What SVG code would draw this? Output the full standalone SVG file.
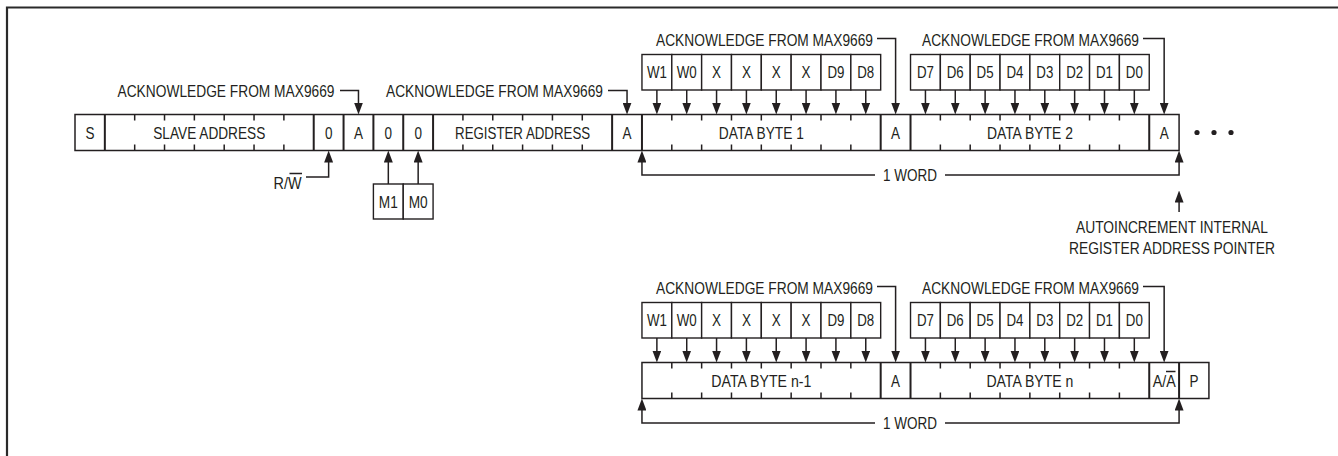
<svg xmlns="http://www.w3.org/2000/svg" width="1338" height="456" viewBox="0 0 1338 456">
<style>
.t{font-family:"Liberation Sans",Arial,sans-serif;font-size:17px;fill:#231f20;text-anchor:middle}
.ln{fill:none;stroke:#231f20;stroke-width:1.5}
.dv{fill:none;stroke:#231f20;stroke-width:2}
.bx{fill:#fff;stroke:#231f20;stroke-width:1.4}
.ar{fill:none;stroke:#231f20;stroke-width:1.5;marker-end:url(#ah)}
</style>
<defs>
<marker id="ah" markerUnits="userSpaceOnUse" markerWidth="12" markerHeight="9" refX="6" refY="4.5" orient="auto">
<path d="M0,0 L12,4.5 L0,9 z" fill="#231f20"/>
</marker>
</defs>
<rect width="1338" height="456" fill="#fff"/>
<path d="M7,456 V7.5 H1338" fill="none" stroke="#2a2a2a" stroke-width="2.2"/>

<g id="row-top">
<rect class="ln" x="75" y="114.5" width="1104.08" height="36"/>
<path class="dv" d="M104.84,114.5V150.5M313.72,114.5V150.5M343.56,114.5V150.5M373.4,114.5V150.5M403.24,114.5V150.5M433.08,114.5V150.5M612.12,114.5V150.5M641.96,114.5V150.5M880.68,114.5V150.5M910.52,114.5V150.5M1149.24,114.5V150.5"/>
<path class="ln" d="M134.68,114.5v6M164.52,114.5v6M194.36,114.5v6M224.2,114.5v6M254.04,114.5v6M283.88,114.5v6M462.92,114.5v6M492.76,114.5v6M522.6,114.5v6M552.44,114.5v6M582.28,114.5v6M671.8,114.5v6M701.64,114.5v6M731.48,114.5v6M761.32,114.5v6M791.16,114.5v6M821,114.5v6M850.84,114.5v6M940.36,114.5v6M970.2,114.5v6M1000.04,114.5v6M1029.88,114.5v6M1059.72,114.5v6M1089.56,114.5v6M1119.4,114.5v6
M134.68,150.5v-6M164.52,150.5v-6M194.36,150.5v-6M224.2,150.5v-6M254.04,150.5v-6M283.88,150.5v-6M462.92,150.5v-6M492.76,150.5v-6M522.6,150.5v-6M552.44,150.5v-6M582.28,150.5v-6M671.8,150.5v-6M701.64,150.5v-6M731.48,150.5v-6M761.32,150.5v-6M791.16,150.5v-6M821,150.5v-6M850.84,150.5v-6M940.36,150.5v-6M970.2,150.5v-6M1000.04,150.5v-6M1029.88,150.5v-6M1059.72,150.5v-6M1089.56,150.5v-6M1119.4,150.5v-6"/>
<text class="t" x="89.92" y="138.7" textLength="9" lengthAdjust="spacingAndGlyphs">S</text>
<text class="t" x="209.28" y="138.7" textLength="112" lengthAdjust="spacingAndGlyphs">SLAVE ADDRESS</text>
<text class="t" x="328.64" y="138.7" textLength="7.5" lengthAdjust="spacingAndGlyphs">0</text>
<text class="t" x="358.48" y="138.7" textLength="9" lengthAdjust="spacingAndGlyphs">A</text>
<text class="t" x="388.32" y="138.7" textLength="7.5" lengthAdjust="spacingAndGlyphs">0</text>
<text class="t" x="418.16" y="138.7" textLength="7.5" lengthAdjust="spacingAndGlyphs">0</text>
<text class="t" x="522.6" y="138.7" textLength="135" lengthAdjust="spacingAndGlyphs">REGISTER ADDRESS</text>
<text class="t" x="627.04" y="138.7" textLength="9" lengthAdjust="spacingAndGlyphs">A</text>
<text class="t" x="761.32" y="138.7" textLength="85" lengthAdjust="spacingAndGlyphs">DATA BYTE 1</text>
<text class="t" x="895.6" y="138.7" textLength="9" lengthAdjust="spacingAndGlyphs">A</text>
<text class="t" x="1029.88" y="138.7" textLength="86" lengthAdjust="spacingAndGlyphs">DATA BYTE 2</text>
<text class="t" x="1164.16" y="138.7" textLength="9" lengthAdjust="spacingAndGlyphs">A</text>
</g>

<g id="ellipsis" fill="#231f20">
<circle cx="1197" cy="132.5" r="2.6"/><circle cx="1214" cy="132.5" r="2.6"/><circle cx="1231" cy="132.5" r="2.6"/>
</g>

<g id="bits-byte1">
<rect class="bx" x="641.96" y="54.5" width="29.84" height="35.5"/><rect class="bx" x="671.8" y="54.5" width="29.84" height="35.5"/><rect class="bx" x="701.64" y="54.5" width="29.84" height="35.5"/><rect class="bx" x="731.48" y="54.5" width="29.84" height="35.5"/><rect class="bx" x="761.32" y="54.5" width="29.84" height="35.5"/><rect class="bx" x="791.16" y="54.5" width="29.84" height="35.5"/><rect class="bx" x="821" y="54.5" width="29.84" height="35.5"/><rect class="bx" x="850.84" y="54.5" width="29.84" height="35.5"/>
<text class="t" x="656.88" y="78.3" textLength="20" lengthAdjust="spacingAndGlyphs">W1</text>
<text class="t" x="686.72" y="78.3" textLength="20" lengthAdjust="spacingAndGlyphs">W0</text>
<text class="t" x="716.56" y="78.3" textLength="9" lengthAdjust="spacingAndGlyphs">X</text>
<text class="t" x="746.4" y="78.3" textLength="9" lengthAdjust="spacingAndGlyphs">X</text>
<text class="t" x="776.24" y="78.3" textLength="9" lengthAdjust="spacingAndGlyphs">X</text>
<text class="t" x="806.08" y="78.3" textLength="9" lengthAdjust="spacingAndGlyphs">X</text>
<text class="t" x="835.92" y="78.3" textLength="17" lengthAdjust="spacingAndGlyphs">D9</text>
<text class="t" x="865.76" y="78.3" textLength="17" lengthAdjust="spacingAndGlyphs">D8</text>
</g>

<g id="bits-byte2">
<rect class="bx" x="910.52" y="54.5" width="29.84" height="35.5"/><rect class="bx" x="940.36" y="54.5" width="29.84" height="35.5"/><rect class="bx" x="970.2" y="54.5" width="29.84" height="35.5"/><rect class="bx" x="1000.04" y="54.5" width="29.84" height="35.5"/><rect class="bx" x="1029.88" y="54.5" width="29.84" height="35.5"/><rect class="bx" x="1059.72" y="54.5" width="29.84" height="35.5"/><rect class="bx" x="1089.56" y="54.5" width="29.84" height="35.5"/><rect class="bx" x="1119.4" y="54.5" width="29.84" height="35.5"/>
<text class="t" x="925.44" y="78.3" textLength="17" lengthAdjust="spacingAndGlyphs">D7</text>
<text class="t" x="955.28" y="78.3" textLength="17" lengthAdjust="spacingAndGlyphs">D6</text>
<text class="t" x="985.12" y="78.3" textLength="17" lengthAdjust="spacingAndGlyphs">D5</text>
<text class="t" x="1014.96" y="78.3" textLength="17" lengthAdjust="spacingAndGlyphs">D4</text>
<text class="t" x="1044.8" y="78.3" textLength="17" lengthAdjust="spacingAndGlyphs">D3</text>
<text class="t" x="1074.64" y="78.3" textLength="17" lengthAdjust="spacingAndGlyphs">D2</text>
<text class="t" x="1104.48" y="78.3" textLength="17" lengthAdjust="spacingAndGlyphs">D1</text>
<text class="t" x="1134.32" y="78.3" textLength="17" lengthAdjust="spacingAndGlyphs">D0</text>
</g>

<g id="mode-bits">
<rect class="bx" x="373.4" y="184" width="29.84" height="35"/><rect class="bx" x="403.24" y="184" width="29.84" height="35"/>
<text class="t" x="388.32" y="207.7" textLength="19" lengthAdjust="spacingAndGlyphs">M1</text>
<text class="t" x="418.16" y="207.7" textLength="19" lengthAdjust="spacingAndGlyphs">M0</text>
</g>

<g id="labels-top">
<text class="t" x="226" y="96.7" textLength="217" lengthAdjust="spacingAndGlyphs">ACKNOWLEDGE FROM MAX9669</text>
<text class="t" x="494.5" y="96.7" textLength="217" lengthAdjust="spacingAndGlyphs">ACKNOWLEDGE FROM MAX9669</text>
<text class="t" x="764.5" y="45.7" textLength="217" lengthAdjust="spacingAndGlyphs">ACKNOWLEDGE FROM MAX9669</text>
<text class="t" x="1030.5" y="45.7" textLength="217" lengthAdjust="spacingAndGlyphs">ACKNOWLEDGE FROM MAX9669</text>
<text class="t" x="287.5" y="188.5" textLength="28" lengthAdjust="spacingAndGlyphs">R/W</text>
<path class="ln" d="M289.5,173.5H302" stroke-width="1.2"/>
<text class="t" x="910" y="181.2" textLength="54" lengthAdjust="spacingAndGlyphs">1 WORD</text>
<text class="t" x="1172" y="233" textLength="192" lengthAdjust="spacingAndGlyphs">AUTOINCREMENT INTERNAL</text>
<text class="t" x="1172" y="254" textLength="206" lengthAdjust="spacingAndGlyphs">REGISTER ADDRESS POINTER</text>
</g>

<g id="row-bottom">
<rect class="ln" x="641.96" y="362.5" width="566.96" height="36"/>
<path class="dv" d="M880.68,362.5V398.5M910.52,362.5V398.5M1149.24,362.5V398.5M1179.08,362.5V398.5"/>
<path class="ln" d="M671.8,362.5v6M701.64,362.5v6M731.48,362.5v6M761.32,362.5v6M791.16,362.5v6M821,362.5v6M850.84,362.5v6M940.36,362.5v6M970.2,362.5v6M1000.04,362.5v6M1029.88,362.5v6M1059.72,362.5v6M1089.56,362.5v6M1119.4,362.5v6
M671.8,398.5v-6M701.64,398.5v-6M731.48,398.5v-6M761.32,398.5v-6M791.16,398.5v-6M821,398.5v-6M850.84,398.5v-6M940.36,398.5v-6M970.2,398.5v-6M1000.04,398.5v-6M1029.88,398.5v-6M1059.72,398.5v-6M1089.56,398.5v-6M1119.4,398.5v-6"/>
<text class="t" x="761.32" y="386.7" textLength="100" lengthAdjust="spacingAndGlyphs">DATA BYTE n-1</text>
<text class="t" x="895.6" y="386.7" textLength="9" lengthAdjust="spacingAndGlyphs">A</text>
<text class="t" x="1029.88" y="386.7" textLength="87" lengthAdjust="spacingAndGlyphs">DATA BYTE n</text>
<text class="t" x="1164.16" y="386.7" textLength="23" lengthAdjust="spacingAndGlyphs">A/A</text>
<path class="ln" d="M1166,371.5H1175.5" stroke-width="1.2"/>
<text class="t" x="1194" y="386.7" textLength="9" lengthAdjust="spacingAndGlyphs">P</text>
</g>

<g id="bits-byte-n-1">
<rect class="bx" x="641.96" y="302.5" width="29.84" height="35.5"/><rect class="bx" x="671.8" y="302.5" width="29.84" height="35.5"/><rect class="bx" x="701.64" y="302.5" width="29.84" height="35.5"/><rect class="bx" x="731.48" y="302.5" width="29.84" height="35.5"/><rect class="bx" x="761.32" y="302.5" width="29.84" height="35.5"/><rect class="bx" x="791.16" y="302.5" width="29.84" height="35.5"/><rect class="bx" x="821" y="302.5" width="29.84" height="35.5"/><rect class="bx" x="850.84" y="302.5" width="29.84" height="35.5"/>
<text class="t" x="656.88" y="326.3" textLength="20" lengthAdjust="spacingAndGlyphs">W1</text>
<text class="t" x="686.72" y="326.3" textLength="20" lengthAdjust="spacingAndGlyphs">W0</text>
<text class="t" x="716.56" y="326.3" textLength="9" lengthAdjust="spacingAndGlyphs">X</text>
<text class="t" x="746.4" y="326.3" textLength="9" lengthAdjust="spacingAndGlyphs">X</text>
<text class="t" x="776.24" y="326.3" textLength="9" lengthAdjust="spacingAndGlyphs">X</text>
<text class="t" x="806.08" y="326.3" textLength="9" lengthAdjust="spacingAndGlyphs">X</text>
<text class="t" x="835.92" y="326.3" textLength="17" lengthAdjust="spacingAndGlyphs">D9</text>
<text class="t" x="865.76" y="326.3" textLength="17" lengthAdjust="spacingAndGlyphs">D8</text>
</g>

<g id="bits-byte-n">
<rect class="bx" x="910.52" y="302.5" width="29.84" height="35.5"/><rect class="bx" x="940.36" y="302.5" width="29.84" height="35.5"/><rect class="bx" x="970.2" y="302.5" width="29.84" height="35.5"/><rect class="bx" x="1000.04" y="302.5" width="29.84" height="35.5"/><rect class="bx" x="1029.88" y="302.5" width="29.84" height="35.5"/><rect class="bx" x="1059.72" y="302.5" width="29.84" height="35.5"/><rect class="bx" x="1089.56" y="302.5" width="29.84" height="35.5"/><rect class="bx" x="1119.4" y="302.5" width="29.84" height="35.5"/>
<text class="t" x="925.44" y="326.3" textLength="17" lengthAdjust="spacingAndGlyphs">D7</text>
<text class="t" x="955.28" y="326.3" textLength="17" lengthAdjust="spacingAndGlyphs">D6</text>
<text class="t" x="985.12" y="326.3" textLength="17" lengthAdjust="spacingAndGlyphs">D5</text>
<text class="t" x="1014.96" y="326.3" textLength="17" lengthAdjust="spacingAndGlyphs">D4</text>
<text class="t" x="1044.8" y="326.3" textLength="17" lengthAdjust="spacingAndGlyphs">D3</text>
<text class="t" x="1074.64" y="326.3" textLength="17" lengthAdjust="spacingAndGlyphs">D2</text>
<text class="t" x="1104.48" y="326.3" textLength="17" lengthAdjust="spacingAndGlyphs">D1</text>
<text class="t" x="1134.32" y="326.3" textLength="17" lengthAdjust="spacingAndGlyphs">D0</text>
</g>

<g id="labels-bottom">
<text class="t" x="764.5" y="293.7" textLength="217" lengthAdjust="spacingAndGlyphs">ACKNOWLEDGE FROM MAX9669</text>
<text class="t" x="1030.5" y="293.7" textLength="217" lengthAdjust="spacingAndGlyphs">ACKNOWLEDGE FROM MAX9669</text>
<text class="t" x="910" y="429.2" textLength="54" lengthAdjust="spacingAndGlyphs">1 WORD</text>
</g>

<g id="connectors">
<path class="ar" d="M340,90.5H358.48V108.5"/>
<path class="ar" d="M608,90.5H627.04V108.5"/>
<path class="ar" d="M877,38.5H895.6V108.5"/>
<path class="ar" d="M1143,38.5H1164.16V108.5"/>
<path class="ar" d="M306,177H328.64V156.5"/>
<path class="ar" d="M388.32,184V156.5"/>
<path class="ar" d="M418.16,184V156.5"/>
<path class="ar" d="M875,175H641.96V156.5"/>
<path class="ar" d="M945,175H1179.08V156.5"/>
<path class="ar" d="M1179.08,212V196.5"/>
<path class="ar" d="M656.88,90V108.5"/><path class="ar" d="M686.72,90V108.5"/><path class="ar" d="M716.56,90V108.5"/><path class="ar" d="M746.4,90V108.5"/><path class="ar" d="M776.24,90V108.5"/><path class="ar" d="M806.08,90V108.5"/><path class="ar" d="M835.92,90V108.5"/><path class="ar" d="M865.76,90V108.5"/>
<path class="ar" d="M925.44,90V108.5"/><path class="ar" d="M955.28,90V108.5"/><path class="ar" d="M985.12,90V108.5"/><path class="ar" d="M1014.96,90V108.5"/><path class="ar" d="M1044.8,90V108.5"/><path class="ar" d="M1074.64,90V108.5"/><path class="ar" d="M1104.48,90V108.5"/><path class="ar" d="M1134.32,90V108.5"/>
<path class="ar" d="M877,286.5H895.6V356.5"/>
<path class="ar" d="M1143,286.5H1164.16V356.5"/>
<path class="ar" d="M656.88,338V356.5"/><path class="ar" d="M686.72,338V356.5"/><path class="ar" d="M716.56,338V356.5"/><path class="ar" d="M746.4,338V356.5"/><path class="ar" d="M776.24,338V356.5"/><path class="ar" d="M806.08,338V356.5"/><path class="ar" d="M835.92,338V356.5"/><path class="ar" d="M865.76,338V356.5"/>
<path class="ar" d="M925.44,338V356.5"/><path class="ar" d="M955.28,338V356.5"/><path class="ar" d="M985.12,338V356.5"/><path class="ar" d="M1014.96,338V356.5"/><path class="ar" d="M1044.8,338V356.5"/><path class="ar" d="M1074.64,338V356.5"/><path class="ar" d="M1104.48,338V356.5"/><path class="ar" d="M1134.32,338V356.5"/>
<path class="ar" d="M875,423H641.96V404.5"/>
<path class="ar" d="M945,423H1179.08V404.5"/>
</g>
</svg>
